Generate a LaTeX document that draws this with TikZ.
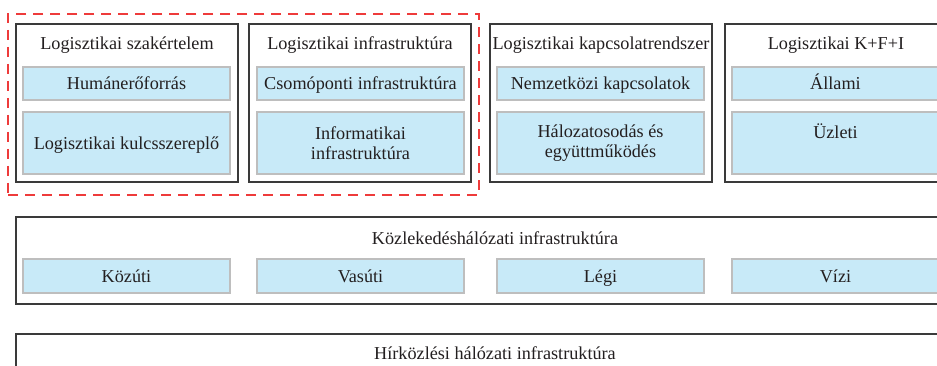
\documentclass[tikz,border=0pt]{standalone}
\usepackage{fontspec}
\setmainfont{Liberation Serif}
\definecolor{txt}{HTML}{231F20}
\definecolor{frame}{HTML}{3A3A3A}
\definecolor{bluefill}{HTML}{C8EAF8}
\definecolor{blueline}{HTML}{BEBEBE}
\definecolor{dashred}{HTML}{EE3B3B}
\begin{document}
\begin{tikzpicture}[x=1pt,y=-1pt,
  font=\fontsize{18.2}{20}\selectfont, text=txt,
  outerbox/.style={draw=frame, line width=1.3pt, fill=white, anchor=north west,
    inner sep=0pt, outer sep=0pt},
  bluebox/.style={draw=blueline, line width=1.3pt, fill=bluefill, anchor=north west,
    inner sep=0pt, outer sep=0pt, align=center, minimum width=207pt},
  oneline/.style={text height=16pt, text depth=3pt},
  title/.style={inner sep=0pt, anchor=base},
  groupbox/.style={draw=dashred, line width=2pt, dash pattern=on 10pt off 7pt,
    anchor=north west, inner sep=0pt, minimum width=471pt, minimum height=181pt}]
\useasboundingbox (0,0) rectangle (937,366);
\clip (0,0) rectangle (937,366);
\fill[white] (0,0) rectangle (937,366);
% group marker
\node[groupbox] (grp) at (7,13) {};
% top boxes
\node[outerbox, minimum width=222pt, minimum height=158pt] (b1) at (16,24) {};
\node[outerbox, minimum width=222pt, minimum height=158pt] (b2) at (249,24) {};
\node[outerbox, minimum width=222pt, minimum height=158pt] (b3) at (490,24) {};
\node[outerbox, minimum width=222pt, minimum height=158pt] (b4) at (725,24) {};
\node[title] (t1) at (127,50) {Logisztikai szakértelem};
\node[title] (t2) at (360,50) {Logisztikai infrastruktúra};
\node[title] (t3) at (601,50) {Logisztikai kapcsolatrendszer};
\node[title] (t4) at (836,50) {Logisztikai K+F+I};
\node[bluebox, oneline, minimum height=33pt] (b1a) at (23,67) {Humánerőforrás};
\node[bluebox, oneline, minimum height=62pt] (b1b) at (23,112) {Logisztikai kulcsszereplő};
\node[bluebox, oneline, minimum height=33pt] (b2a) at (257,67) {Csomóponti infrastruktúra};
\node[bluebox, minimum height=62pt] (b2b) at (257,112) {Informatikai\\infrastruktúra};
\node[bluebox, oneline, minimum height=33pt] (b3a) at (497,67) {Nemzetközi kapcsolatok};
\node[bluebox, minimum height=62pt] (b3b) at (497,112) {Hálozatosodás és\\együttműködés};
\node[bluebox, oneline, minimum height=33pt] (b4a) at (732,67) {Állami};
\node[bluebox, minimum height=62pt] (b4b) at (732,112) {Üzleti\\\phantom{g}};
% transport network
\node[outerbox, minimum width=958pt, minimum height=87pt] (k) at (16,217) {};
\node[title] (kt) at (495,244) {Közlekedéshálózati infrastruktúra};
\node[bluebox, oneline, minimum height=34pt] (k1) at (23,259) {Közúti};
\node[bluebox, oneline, minimum height=34pt] (k2) at (257,259) {Vasúti};
\node[bluebox, oneline, minimum height=34pt] (k3) at (497,259) {Légi};
\node[bluebox, oneline, minimum height=34pt] (k4) at (732,259) {Vízi};
% telecom network
\node[outerbox, minimum width=958pt, minimum height=87pt] (h) at (16,334) {};
\node[title] (ht) at (495,359) {Hírközlési hálózati infrastruktúra};
\end{tikzpicture}
\end{document}
